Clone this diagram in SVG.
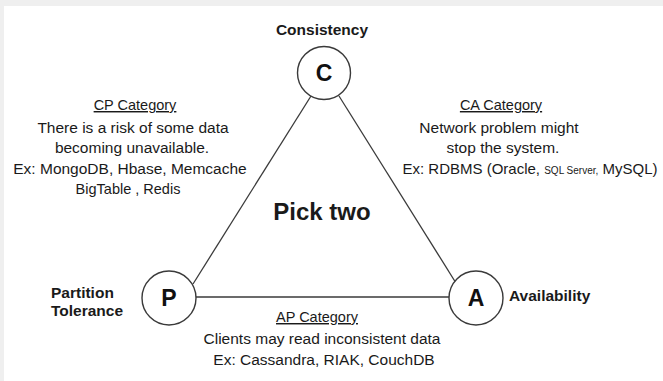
<svg xmlns="http://www.w3.org/2000/svg" width="663" height="381" viewBox="0 0 663 381">
  <style>
    .frame { fill: #efefef; }
    .edge { stroke: #3a3a3a; stroke-width: 1.3; fill: none; }
    .node { fill: #ffffff; stroke: #3a3a3a; stroke-width: 1.4; }
    .letter { font-family: "Liberation Sans", Arial, sans-serif; font-weight: bold; font-size: 23px; fill: #111; text-anchor: middle; }
    .prop { font-family: "Liberation Sans", Arial, sans-serif; font-weight: bold; font-size: 15.5px; fill: #1a1a1a; }
    .head { font-family: "Liberation Sans", Arial, sans-serif; font-size: 14.5px; fill: #1a1a1a; text-anchor: middle; text-decoration: underline; }
    .body { font-family: "Liberation Sans", Arial, sans-serif; font-size: 15.5px; fill: #1a1a1a; text-anchor: middle; }
    .small { font-size: 10px; }
    .pick { font-family: "Liberation Sans", Arial, sans-serif; font-weight: bold; font-size: 24px; fill: #1a1a1a; text-anchor: middle; }
  </style>

  <!-- page background with the grey margin strips -->
  <rect x="0" y="0" width="663" height="381" fill="#ffffff"/>
  <rect class="frame" x="0" y="0" width="663" height="6"/>
  <rect class="frame" x="0" y="0" width="4" height="381"/>

  <!-- triangle sides -->
  <g id="connectors">
    <line class="edge" x1="311" y1="96" x2="193" y2="284"/>
    <line class="edge" x1="339" y1="96" x2="456" y2="283"/>
    <line class="edge" x1="196" y1="297" x2="449" y2="297"/>
  </g>

  <!-- vertices -->
  <g id="node-C">
    <circle class="node" cx="324" cy="73" r="26.5"/>
    <text class="letter" x="324" y="81">C</text>
    <text class="prop" x="322" y="35" text-anchor="middle">Consistency</text>
  </g>

  <g id="node-P">
    <circle class="node" cx="169" cy="298" r="27"/>
    <text class="letter" x="169" y="306">P</text>
    <text class="prop" x="51" y="298">Partition</text>
    <text class="prop" x="51" y="316">Tolerance</text>
  </g>

  <g id="node-A">
    <circle class="node" cx="476" cy="298" r="27"/>
    <text class="letter" x="476" y="306">A</text>
    <text class="prop" x="509" y="301">Availability</text>
  </g>

  <!-- centre caption -->
  <g id="pick-two">
    <text class="pick" x="322" y="220">Pick two</text>
  </g>

  <!-- CP side -->
  <g id="cp-category">
    <text class="head" x="135" y="110">CP Category</text>
    <text class="body" x="133" y="132.5">There is a risk of some data</text>
    <text class="body" x="132" y="152.5">becoming unavailable.</text>
    <text class="body" x="130" y="173.5">Ex: MongoDB, Hbase, Memcache</text>
    <text class="body" x="128" y="193.5" style="font-size:14.5px">BigTable , Redis</text>
  </g>

  <!-- CA side -->
  <g id="ca-category">
    <text class="head" x="501" y="110">CA Category</text>
    <text class="body" x="499" y="132.5">Network problem might</text>
    <text class="body" x="503" y="152.5">stop the system.</text>
    <text class="body" x="530" y="173.5" style="font-size:15px">Ex: RDBMS (Oracle, <tspan class="small">SQL Server,</tspan> MySQL)</text>
  </g>

  <!-- AP side -->
  <g id="ap-category">
    <text class="head" x="317" y="322">AP Category</text>
    <text class="body" x="322" y="344">Clients may read inconsistent data</text>
    <text class="body" x="324" y="365">Ex: Cassandra, RIAK, CouchDB</text>
  </g>
</svg>
